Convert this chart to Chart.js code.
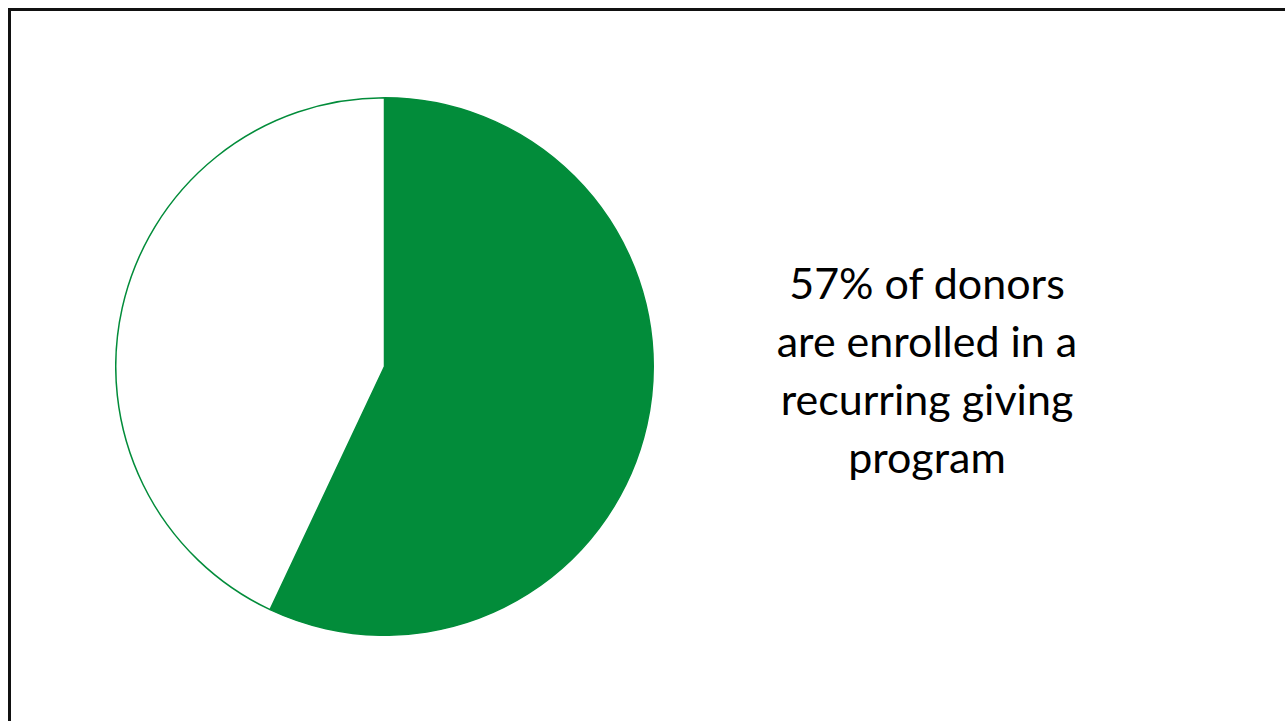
<!DOCTYPE html>
<html>
<head>
<meta charset="utf-8">
<script src="https://cdn.jsdelivr.net/npm/chart.js@4/dist/chart.umd.min.js"></script>
<style>
  html, body { margin: 0; padding: 0; background: #fff; }
  #page { position: relative; width: 1285px; height: 721px; overflow: hidden; }
  #frame { position: absolute; left: 8px; top: 8px; width: 1290px; height: 730px; border: 3px solid #111; box-sizing: border-box; }
  #pieBox { position: absolute; left: 115px; top: 97px; width: 539px; height: 539px; }
  #caption {
    position: absolute; left: 727px; top: 254px; width: 400px;
    text-align: center; font-family: Lato, "Open Sans", sans-serif;
    font-size: 43px; line-height: 58px; color: #000;
  }
</style>
</head>
<body>
<div id="page">
  <div id="frame"></div>
  <div id="pieBox"><canvas id="pie"></canvas></div>
  <div id="caption">57% of donors<br>are enrolled in a<br>recurring giving<br>program</div>
</div>
<script>
// share of donors in a recurring giving program
const labels = ["Recurring giving", "Not enrolled"];
const shares = [57, 43];
const fills = ["#028c3a", "#ffffff"];

new Chart(document.getElementById("pie"), {
  type: "pie",
  data: {
    labels,
    datasets: [{
      data: shares,
      backgroundColor: fills,
      borderColor: "#028c3a",
      borderWidth: 1.5,
    }],
  },
  options: {
    responsive: true,
    maintainAspectRatio: false,
    animation: false,
    layout: { padding: 0 },
    plugins: { legend: { display: false }, tooltip: { enabled: false } },
  },
});
</script>
</body>
</html>
